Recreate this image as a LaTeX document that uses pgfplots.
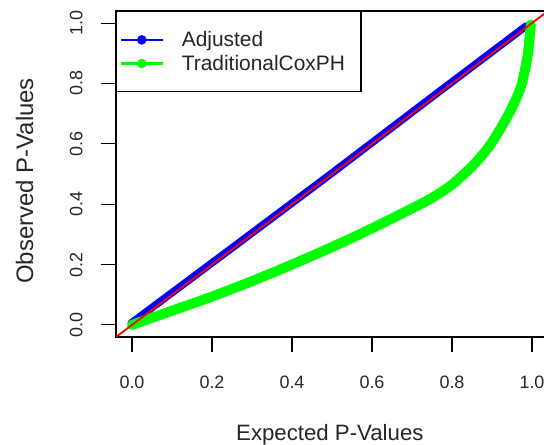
\documentclass[border=0pt]{standalone}
\usepackage{pgfplots}
\pgfplotsset{compat=1.18}
\usepackage{fontspec}
\setmainfont{Liberation Sans}

\definecolor{rblue}{RGB}{0,0,255}
\definecolor{rgreen}{RGB}{0,255,0}
\definecolor{rred}{RGB}{255,0,0}

\begin{document}
\begin{tikzpicture}
\useasboundingbox (0,0) rectangle (544bp,445bp);
\begin{axis}[
  at={(116bp,108bp)}, anchor=south west,
  scale only axis, width=432bp, height=326bp,
  xmin=-0.04, xmax=1.04, ymin=-0.04, ymax=1.04,
  xtick={0,0.2,0.4,0.6,0.8,1.0},
  ytick={0,0.2,0.4,0.6,0.8,1.0},
  tick pos=left, tick align=outside,
  major tick length=15bp,
  every tick/.style={black, line width=1.1bp},
  axis line style={line width=1.1bp},
  /pgf/number format/.cd, fixed, fixed zerofill, precision=1, assume math mode=true,
  /pgfplots/.cd,
  tick label style={font=\fontsize{18}{21}\selectfont, text=black!85},
  xticklabel style={yshift=-20bp},
  yticklabel style={rotate=90, anchor=south, yshift=15bp},
  xlabel={Expected P-Values},
  ylabel={Observed P-Values},
  xlabel style={font=\fontsize{22.3}{26}\selectfont, text=black!85,
    at={(axis description cs:0.495,-0.316)}, anchor=base},
  ylabel style={font=\fontsize{24}{28}\selectfont, text=black!85,
    at={(axis description cs:-0.192,0.479)}, anchor=base},
  legend style={at={(axis description cs:0,1)}, anchor=north west,
    draw=black, line width=1.1bp, font=\fontsize{21}{25}\selectfont,
    inner xsep=3bp, inner ysep=19bp, row sep=5bp,
    nodes={inner xsep=3bp, inner ysep=1bp, text=black!85}},
  legend cell align=left,
  clip=true,
]
% legend entries (R style: line with dot)
\addlegendimage{legend image code/.code={
  \draw[rblue, line width=2.5bp] (0bp,0bp) -- (42bp,0bp);
  \fill[rblue] (21bp,0bp) circle (4.2bp);
  \path[draw=none] (0bp,0bp) -- (58bp,0bp);}}
\addlegendentry{Adjusted}
\addlegendimage{legend image code/.code={
  \draw[rgreen, line width=2.5bp] (0bp,0bp) -- (42bp,0bp);
  \fill[rgreen] (21bp,0bp) circle (4.2bp);
  \path[draw=none] (0bp,0bp) -- (58bp,0bp);}}
\addlegendentry{TraditionalCoxPH\rule{10bp}{0bp}}

% Adjusted
\addplot[rblue, line width=7.5bp, line cap=round, forget plot] coordinates {
  (-0.002,0.006) (0.25,0.255) (0.5,0.503) (0.75,0.755) (0.985,0.99)
};
% Traditional Cox PH
\addplot[rgreen, line width=10bp, line cap=round, smooth, forget plot] coordinates {
  (0.0,0.0) (0.05,0.024) (0.1,0.047) (0.2,0.094) (0.3,0.145) (0.4,0.2)
  (0.5,0.258) (0.6,0.32) (0.7,0.386) (0.75,0.421) (0.8,0.465) (0.85,0.525)
  (0.88,0.57) (0.9,0.605) (0.93,0.67) (0.95,0.72) (0.97,0.78) (0.98,0.83)
  (0.99,0.9) (0.997,0.995)
};
% reference line y = x
\addplot[rred, line width=1.8bp, forget plot] coordinates {
  (-0.04,-0.04) (1.04,1.04)
};
\end{axis}
\end{tikzpicture}
\end{document}
